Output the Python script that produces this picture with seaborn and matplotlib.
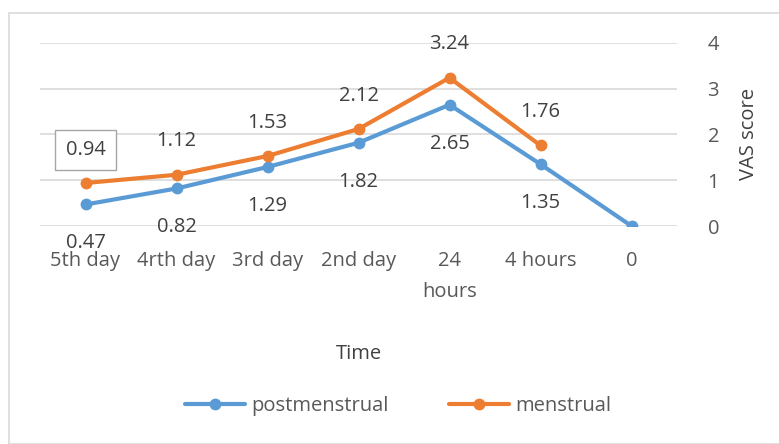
import matplotlib
matplotlib.use("Agg")
import matplotlib.pyplot as plt
import seaborn as sns
import pandas as pd
import numpy as np
from matplotlib.patches import Rectangle
from matplotlib.lines import Line2D

# data
times = ["5th day", "4rth day", "3rd day", "2nd day", "24\nhours", "4 hours", "0"]
postmenstrual = [0.47, 0.82, 1.29, 1.82, 2.65, 1.35, 0.0]
menstrual = [0.94, 1.12, 1.53, 2.12, 3.24, 1.76, np.nan]

df = pd.DataFrame({
    "Time": times * 2,
    "VAS score": postmenstrual + menstrual,
    "group": ["postmenstrual"] * len(times) + ["menstrual"] * len(times),
})

sns.set_style("white")
plt.rcParams["font.family"] = ["Open Sans", "DejaVu Sans"]

blue, orange = "#5B9BD5", "#ED7D31"
txt = "#595959"
fs = 14.5

fig = plt.figure(figsize=(7.79, 4.44), dpi=100)
ax = fig.add_axes([40 / 779, 1 - 226 / 444, (677 - 40) / 779, (226 - 43) / 444])

sns.lineplot(
    data=df, x="Time", y="VAS score", hue="group", palette=[blue, orange],
    marker="o", markersize=8.5, markeredgewidth=0, linewidth=3,
    sort=False, legend=False, ax=ax,
)

ax.set_ylim(0, 4)
ax.set_xlim(-0.5, len(times) - 0.5)
ax.set_yticks([0, 1, 2, 3, 4])
ax.yaxis.tick_right()
ax.yaxis.set_label_position("right")
ax.grid(axis="y", color="#D9D9D9", linewidth=1.2)
ax.set_axisbelow(True)
for s in ax.spines.values():
    s.set_visible(False)
ax.tick_params(axis="both", length=0, labelsize=fs, colors=txt)
ax.tick_params(axis="x", pad=18)
ax.tick_params(axis="y", pad=22)
for lab in ax.get_xticklabels():
    lab.set_linespacing(1.75)
ax.set_xlabel("Time", fontsize=fs, color="#404040", labelpad=30)
ax.set_ylabel("VAS score", fontsize=fs, color="#404040", labelpad=14)

# data labels
for i, v in enumerate(postmenstrual):
    if i == len(times) - 1:
        continue
    ax.annotate(f"{v:.2f}", (i, v), xytext=(0, -28), textcoords="offset points",
                ha="center", va="center", fontsize=fs, color="#404040")
for i, v in enumerate(menstrual):
    if np.isnan(v):
        continue
    bb = None
    if i == 0:
        bb = dict(boxstyle="square,pad=0.5", fc="white", ec="#A6A6A6", lw=1)
    ax.annotate(f"{v:.2f}", (i, v), xytext=(0, 24), textcoords="offset points",
                ha="center", va="center", fontsize=fs, color="#404040", bbox=bb)

handles = [
    Line2D([], [], color=blue, lw=3, marker="o", markersize=8.5, markeredgewidth=0),
    Line2D([], [], color=orange, lw=3, marker="o", markersize=8.5, markeredgewidth=0),
]
fig.legend(handles, ["postmenstrual", "menstrual"], loc="center",
           bbox_to_anchor=(398 / 779, 1 - 406 / 444), ncol=2, frameon=False,
           fontsize=fs, handlelength=3.0, handletextpad=0.3, columnspacing=3,
           labelcolor=txt)

fig.patches.append(Rectangle((9 / 779, 0), 1.0, 1 - 13 / 444, transform=fig.transFigure,
                             fill=False, ec="#D9D9D9", lw=1.2))

fig.savefig("out.png", dpi=100)
